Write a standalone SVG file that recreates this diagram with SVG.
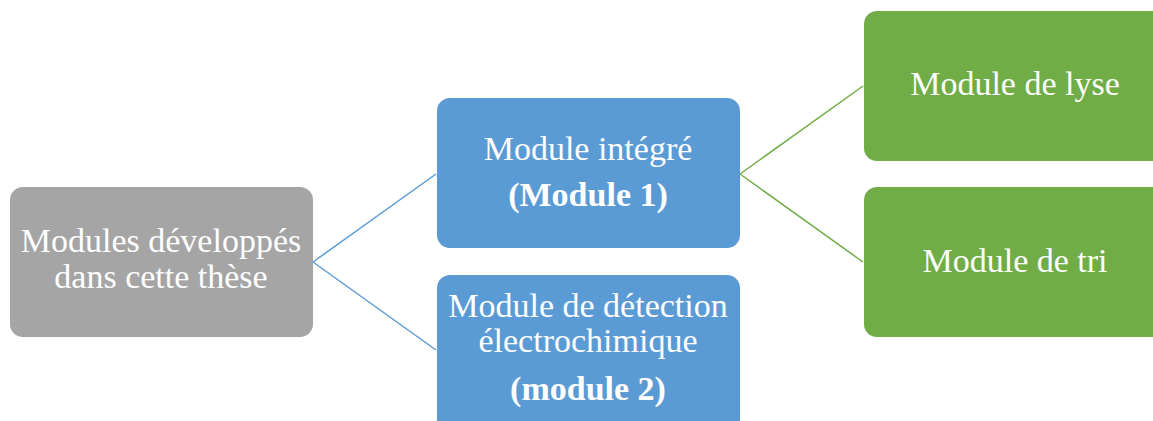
<svg xmlns="http://www.w3.org/2000/svg" width="1153" height="421" viewBox="0 0 1153 421">
<style>
.t{font-family:"Liberation Serif","Times New Roman",serif;font-size:34px;fill:#ffffff;text-anchor:middle}
.b{font-weight:bold}
.grey{fill:#a5a5a5}
.blue{fill:#5b9bd5}
.green{fill:#70ad47}
.cb{stroke:#5b9bd5;stroke-width:1.5;fill:none}
.cg{stroke:#70ad47;stroke-width:1.5;fill:none}
</style>
<rect width="1153" height="421" fill="#ffffff"/>
<g id="connectors">
<line class="cb" x1="313" y1="262" x2="436" y2="174"/>
<line class="cb" x1="313" y1="262" x2="436" y2="350"/>
<line class="cg" x1="740" y1="174" x2="863" y2="86"/>
<line class="cg" x1="740" y1="174" x2="863" y2="262"/>
</g>
<g id="root">
<rect class="grey" x="10" y="187" width="303" height="150" rx="13"/>
<text class="t" x="161" y="252">Modules développés</text>
<text class="t" x="161" y="288">dans cette thèse</text>
</g>
<g id="module1">
<rect class="blue" x="437" y="98" width="303" height="150" rx="13"/>
<text class="t" x="588" y="160">Module intégré</text>
<text class="t b" x="588" y="206">(Module 1)</text>
</g>
<g id="module2">
<rect class="blue" x="437" y="275" width="303" height="160" rx="13"/>
<text class="t" x="588" y="317">Module de détection</text>
<text class="t" x="588" y="352">électrochimique</text>
<text class="t b" x="588" y="400">(module 2)</text>
</g>
<g id="lyse">
<rect class="green" x="864" y="11" width="303" height="150" rx="13"/>
<text class="t" x="1015" y="95">Module de lyse</text>
</g>
<g id="tri">
<rect class="green" x="864" y="187" width="303" height="150" rx="13"/>
<text class="t" x="1015" y="272">Module de tri</text>
</g>
</svg>
